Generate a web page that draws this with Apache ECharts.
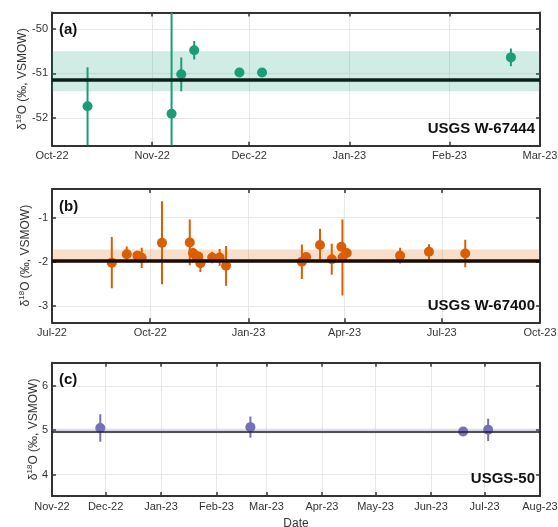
<!DOCTYPE html>
<html>
<head>
<meta charset="utf-8">
<script src="https://cdn.jsdelivr.net/npm/echarts@6/dist/echarts.min.js"></script>
<style>
html,body{margin:0;padding:0;background:#fff;}
#main{width:558px;height:527px;}
</style>
</head>
<body>
<div id="main"></div>
<script>
// panel (a) USGS W-67444
var datesA = ['2022-10-12','2022-11-07','2022-11-10','2022-11-14','2022-11-28','2022-12-05','2023-02-20'];
var valsA  = [-51.74, -51.91, -51.02, -50.48, -50.98, -50.98, -50.64];
var errsA  = [0.88, 2.5, 0.38, 0.21, 0.05, 0.07, 0.20];
var meanA = -51.15;
var bandA = [-51.40, -50.50];
var yTicksA = [-52, -51, -50];
var xTicksA = ['2022-10-01','2022-11-01','2022-12-01','2023-01-01','2023-02-01','2023-03-01'];

// panel (b) USGS W-67400
var datesB = ['2022-08-26','2022-09-09','2022-09-19','2022-09-23','2022-10-12','2022-11-07','2022-11-10',
              '2022-11-13','2022-11-15','2022-11-17','2022-11-28','2022-12-05','2022-12-11',
              '2023-02-20','2023-02-24','2023-03-09','2023-03-20','2023-03-29','2023-03-30','2023-04-03',
              '2023-05-23','2023-06-19','2023-07-23'];
var valsB  = [-2.02, -1.83, -1.86, -1.91, -1.57, -1.56, -1.80, -1.87, -1.88, -2.03, -1.90, -1.90, -2.09,
              -2.00, -1.89, -1.62, -1.94, -1.66, -1.90, -1.80, -1.86, -1.77, -1.81];
var errsB  = [0.58, 0.18, 0.11, 0.23, 0.94, 0.52, 0.12, 0.08, 0.08, 0.20, 0.13, 0.19, 0.45,
              0.39, 0.06, 0.37, 0.35, 0.07, 0.86, 0.08, 0.18, 0.17, 0.31];
var meanB = -1.97;
var bandB = [-1.99, -1.72];
var yTicksB = [-3, -2, -1];
var xTicksB = ['2022-07-01','2022-10-01','2023-01-01','2023-04-01','2023-07-01','2023-10-01'];

// panel (c) USGS-50
var datesC = ['2022-11-28','2023-02-20','2023-06-19','2023-07-03'];
var valsC  = [5.05, 5.07, 4.97, 5.01];
var errsC  = [0.31, 0.24, 0.03, 0.25];
var meanC = 4.97;
var bandC = [4.93, 5.04];
var yTicksC = [4, 5, 6];
var xTicksC = ['2022-11-01','2022-12-01','2023-01-01','2023-02-01','2023-03-01','2023-04-01',
               '2023-05-01','2023-06-01','2023-07-01','2023-08-01'];

var monthNames = ['Jan','Feb','Mar','Apr','May','Jun','Jul','Aug','Sep','Oct','Nov','Dec'];

function ts(s){
  var p = s.split('-');
  return new Date(+p[0], +p[1]-1, +p[2]).getTime();
}
function fmtMonth(v){
  var d = new Date(v);
  return monthNames[d.getMonth()] + '-' + String(d.getFullYear()).slice(2);
}

var FONT = 'Liberation Sans, Arial, sans-serif';
var panels = [
  {dates:datesA, vals:valsA, errs:errsA, mean:meanA, band:bandA, yTicks:yTicksA, xTicks:xTicksA,
   ymin:-52.63, ymax:-49.63, top:12.5, color:'#1b9e77', bandColor:'rgba(27,158,119,0.2)',
   meanColor:'#0b1f18', meanWidth:3.5, tag:'(a)', name:'USGS W-67444', gap:21},
  {dates:datesB, vals:valsB, errs:errsB, mean:meanB, band:bandB, yTicks:yTicksB, xTicks:xTicksB,
   ymin:-3.37, ymax:-0.35, top:189, color:'#d95f02', bandColor:'rgba(217,95,2,0.2)',
   meanColor:'#1a0c03', meanWidth:3.5, tag:'(b)', name:'USGS W-67400', gap:18},
  {dates:datesC, vals:valsC, errs:errsC, mean:meanC, band:bandC, yTicks:yTicksC, xTicks:xTicksC,
   ymin:3.52, ymax:6.52, top:362.7, color:'#7570b3', bandColor:'rgba(117,112,179,0.2)',
   meanColor:'#222', meanWidth:1.5, tag:'(c)', name:'USGS-50', gap:10}
];

var grids = [], xAxes = [], yAxes = [], series = [], graphics = [];
var axisLine = {show:true, onZero:false, lineStyle:{color:'#333', width:2}};
var tickStyle = {show:true, inside:true, length:4, lineStyle:{color:'#333', width:1.5}};

panels.forEach(function(p, i){
  grids.push({left:52, top:p.top, width:488, height:133.3, containLabel:false, outerBoundsMode:'none'});
  var xt = p.xTicks.map(ts);
  var xmin = xt[0], xmax = xt[xt.length-1];
  // bottom x (dates as millisecond values)
  xAxes.push({type:'value', gridIndex:i, min:xmin, max:xmax, position:'bottom', scale:true,
    axisLine:axisLine,
    axisTick:Object.assign({customValues:xt}, tickStyle),
    axisLabel:{customValues:xt, formatter:fmtMonth, color:'#333', fontSize:11, fontFamily:FONT, margin:5,
      showMinLabel:true, showMaxLabel:true, hideOverlap:false},
    splitLine:{show:true, lineStyle:{color:'#e8e8e8', width:1}},
    name: i === 2 ? 'Date' : '', nameLocation:'middle', nameGap:22, nameMoveOverlap:false,
    nameTextStyle:{color:'#333', fontSize:12, fontFamily:FONT}
  });
  // top x (box)
  xAxes.push({type:'value', gridIndex:i, min:xmin, max:xmax, position:'top', scale:true,
    axisLine:axisLine,
    axisTick:Object.assign({customValues:xt}, tickStyle),
    axisLabel:{show:false}, splitLine:{show:false}
  });
  var ylabel = '{n|δ}{s|18}{n|O (‰, VSMOW)}';
  yAxes.push({type:'value', gridIndex:i, min:p.ymin, max:p.ymax, position:'left', scale:true,
    axisLine:axisLine,
    axisTick:Object.assign({customValues:p.yTicks}, tickStyle),
    axisLabel:{customValues:p.yTicks, color:'#333', fontSize:11, fontFamily:FONT, margin:4},
    splitLine:{show:true, lineStyle:{color:'#e8e8e8', width:1}},
    name:ylabel, nameLocation:'middle', nameGap:p.gap, nameMoveOverlap:false,
    nameTextStyle:{color:'#333', fontFamily:FONT,
      rich:{n:{fontSize:12, fontFamily:FONT, color:'#333', lineHeight:16},
            s:{fontSize:8, fontFamily:FONT, color:'#333', verticalAlign:'top', lineHeight:8}}}
  });
  yAxes.push({type:'value', gridIndex:i, min:p.ymin, max:p.ymax, position:'right', scale:true,
    axisLine:axisLine,
    axisTick:Object.assign({customValues:p.yTicks}, tickStyle),
    axisLabel:{show:false}, splitLine:{show:false}
  });

  var pts = p.dates.map(function(d, k){ return [ts(d), p.vals[k]]; });
  var bars = p.dates.map(function(d, k){ return [ts(d), p.vals[k]-p.errs[k], p.vals[k]+p.errs[k]]; });

  // band + mean line
  series.push({type:'line', xAxisIndex:i*2, yAxisIndex:i*2, data:[], silent:true,
    markArea:{silent:true, itemStyle:{color:p.bandColor}, data:[[{yAxis:p.band[0]},{yAxis:p.band[1]}]]},
    markLine:{silent:true, symbol:'none', label:{show:false},
      lineStyle:{color:p.meanColor, width:p.meanWidth, type:'solid'}, data:[{yAxis:p.mean}]}
  });
  // error bars
  var col = p.color;
  series.push({type:'custom', xAxisIndex:i*2, yAxisIndex:i*2, data:bars, clip:true, z:3,
    encode:{x:0, y:[1,2]},
    renderItem:function(params, api){
      var cs = params.coordSys;
      var a = api.coord([api.value(0), api.value(2)]);
      var b = api.coord([api.value(0), api.value(1)]);
      var y1 = Math.max(a[1], cs.y), y2 = Math.min(b[1], cs.y + cs.height);
      return {type:'line', shape:{x1:a[0], y1:y1, x2:b[0], y2:y2},
        style:{stroke:col, lineWidth:2}};
    }
  });
  // points
  series.push({type:'scatter', xAxisIndex:i*2, yAxisIndex:i*2, data:pts, z:4,
    symbol:'circle', symbolSize:10, itemStyle:{color:p.color, opacity:1}});

  graphics.push({type:'text', left:59, top:p.top + 10, z:100,
    style:{text:p.tag, font:'bold 15px ' + FONT, fill:'#111'}});
  graphics.push({type:'text', right:23, top:p.top + 109, z:100,
    style:{text:p.name, font:'bold 15px ' + FONT, fill:'#111', textAlign:'right'}});
});

var chart = echarts.init(document.getElementById('main'), null, {renderer:'canvas'});
chart.setOption({
  backgroundColor:'#fff',
  animation:false,
  textStyle:{fontFamily:FONT},
  grid:grids,
  xAxis:xAxes,
  yAxis:yAxes,
  series:series,
  graphic:graphics
});
</script>
</body>
</html>
